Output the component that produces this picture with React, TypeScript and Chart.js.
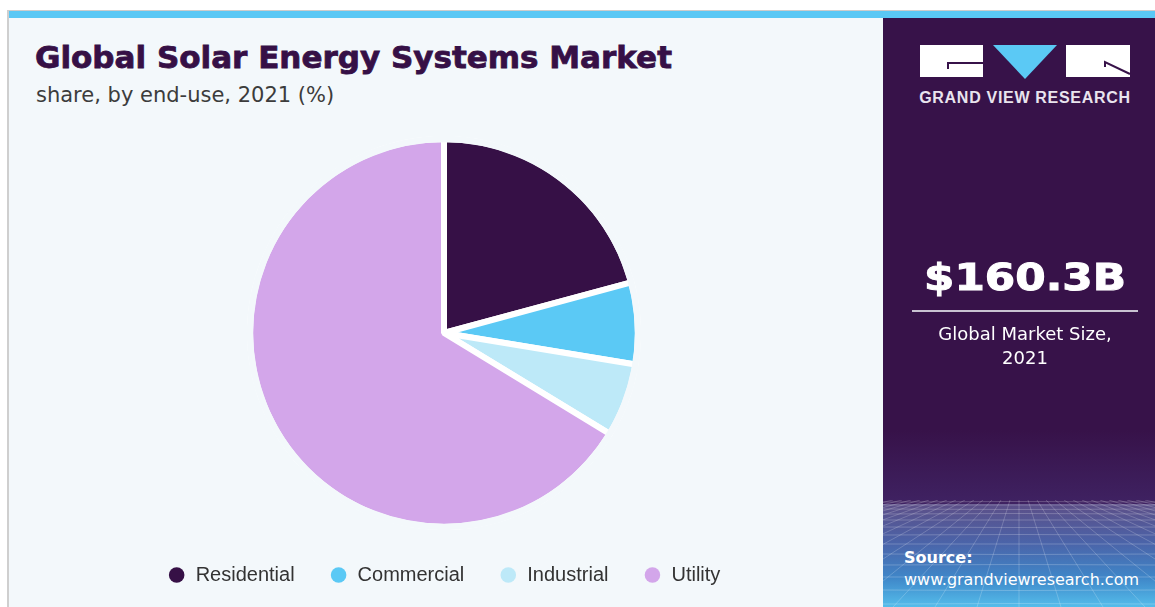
import React, { useEffect, useRef } from "react";
import { Chart, registerables, DoughnutController } from "chart.js";

Chart.register(...registerables);

const categories = ["Residential", "Commercial", "Industrial", "Utility"];
const shares = [20.8, 6.8, 6.1, 66.3];
const sliceColors = ["#361046", "#5bc9f5", "#bde9f8", "#d3a6ea"];
const titleText = "Global Solar Energy Systems Market";
const subtitleText = "share, by end-use, 2021 (%)";
const marketSize = "$160.3B";
const marketLabel = ["Global Market Size,", "2021"];
const brandText = "GRAND VIEW RESEARCH";
const sourceLabel = "Source:";
const sourceUrl = "www.grandviewresearch.com";

const PANEL_BG = "#f3f8fb";
const DV = "'DejaVu Sans', sans-serif";
const LS = "'Liberation Sans', Arial, sans-serif";

// hides the outer half of the white slice border so only the gaps stay white
const outerEdgePlugin = {
  id: "outerEdge",
  afterDatasetsDraw(chart: any) {
    const meta = chart.getDatasetMeta(0);
    const arc = meta && meta.data && meta.data[0];
    if (!arc) return;
    const bw = chart.data.datasets[0].borderWidth || 0;
    const ctx = chart.ctx;
    ctx.save();
    ctx.beginPath();
    ctx.arc(arc.x, arc.y, arc.outerRadius, 0, Math.PI * 2);
    ctx.lineWidth = bw + 0.5;
    ctx.strokeStyle = PANEL_BG;
    ctx.stroke();
    ctx.restore();
  },
};

function GridDecor() {
  const lines: JSX.Element[] = [];
  const ys = [502, 505, 509, 514, 520, 527, 535, 544, 554, 565, 577, 590, 604];
  ys.forEach((y, i) => {
    lines.push(
      <path key={"h" + i} d={`M0 ${y - 500} Q136 ${y - 500 + (i % 3) - 1} 272 ${y - 500}`} stroke="rgba(255,255,255,0.22)" strokeWidth="1" fill="none" />
    );
  });
  for (let k = -14; k <= 14; k++) {
    const x0 = 136 + k * 9;
    const x1 = 136 + k * 42;
    lines.push(<line key={"v" + k} x1={x0} y1={0} x2={x1} y2={107} stroke="rgba(255,255,255,0.2)" strokeWidth="1" />);
  }
  return (
    <svg width="272" height="107" style={{ position: "absolute", left: 0, top: 482 }}>
      {lines}
    </svg>
  );
}

export default function App() {
  const ref = useRef<HTMLCanvasElement>(null);

  useEffect(() => {
    const baseGen = (DoughnutController as any).overrides.plugins.legend.labels.generateLabels;
    const chart = new Chart(ref.current as HTMLCanvasElement, {
      type: "pie",
      data: {
        labels: categories,
        datasets: [
          {
            data: shares,
            backgroundColor: sliceColors,
            borderColor: "#ffffff",
            borderWidth: 6,
          },
        ],
      },
      options: {
        animation: false,
        responsive: false,
        maintainAspectRatio: false,
        plugins: {
          legend: {
            position: "bottom",
            labels: {
              usePointStyle: true,
              pointStyle: "circle",
              boxWidth: 18,
              boxHeight: 11,
              padding: 35,
              color: "#333333",
              font: { family: LS, size: 20 },
              generateLabels: (c: any) =>
                baseGen(c).map((it: any) => ({ ...it, lineWidth: 0, strokeStyle: it.fillStyle })),
            },
          },
          tooltip: { enabled: false },
        },
      } as any,
      plugins: [outerEdgePlugin],
    });
    return () => chart.destroy();
  }, []);

  return (
    <div style={{ position: "absolute", left: 0, top: 0, width: 1155, height: 607, overflow: "hidden", background: "#ffffff" }}>
      {/* frame */}
      <div style={{ position: "absolute", left: 7, top: 10, width: 1148, height: 597, borderLeft: "2px solid #cfcfcf", borderTop: "1px solid #cccccc", boxSizing: "border-box" }} />
      {/* top blue bar */}
      <div style={{ position: "absolute", left: 9, top: 11, width: 1146, height: 7, background: "#5ac8f5" }} />
      {/* left panel */}
      <div style={{ position: "absolute", left: 9, top: 18, width: 874, height: 589, background: PANEL_BG }} />
      <div style={{ position: "absolute", left: 35, top: 42, fontFamily: DV, fontWeight: 700, fontSize: 31, lineHeight: "31px", color: "#361046", WebkitTextStroke: "0.8px #361046", whiteSpace: "nowrap" }}>
        {titleText}
      </div>
      <div style={{ position: "absolute", left: 36, top: 85, fontFamily: DV, fontSize: 21, lineHeight: "21px", color: "#3c3c3c", whiteSpace: "nowrap" }}>
        {subtitleText}
      </div>
      <canvas
        ref={ref}
        width={870}
        height={459}
        style={{ position: "absolute", left: 9, top: 136, width: 870, height: 459 }}
      />
      {/* right panel */}
      <div
        style={{
          position: "absolute",
          left: 883,
          top: 18,
          width: 272,
          height: 589,
          overflow: "hidden",
          background:
            "linear-gradient(to bottom, #371249 0%, #371249 70%, #3f2262 82.5%, #5c4f88 82.6%, #4b63a8 89%, #3f86c8 95%, #54bdeb 100%)",
        }}
      >
        <GridDecor />
      </div>
      {/* logo */}
      <svg width="1155" height="120" style={{ position: "absolute", left: 0, top: 0 }}>
        <rect x="920" y="45" width="63" height="32" fill="#ffffff" />
        <path d="M948 69 L948 63 L983 63" stroke="#371249" strokeWidth="2" fill="none" />
        <polygon points="993,45 1057,45 1025,79" fill="#5bc9f5" />
        <rect x="1066" y="45" width="64" height="32" fill="#ffffff" />
        <path d="M1105 67 L1105 62 L1130 74" stroke="#371249" strokeWidth="2" fill="none" />
      </svg>
      <div style={{ position: "absolute", left: 895, width: 260, top: 90, textAlign: "center", fontFamily: LS, fontWeight: 700, fontSize: 16, lineHeight: "16px", letterSpacing: 0.7, color: "#e9e4ee", whiteSpace: "nowrap" }}>
        {brandText}
      </div>
      <div style={{ position: "absolute", left: 895, width: 260, top: 258, textAlign: "center", fontFamily: DV, fontWeight: 700, fontSize: 38, lineHeight: "38px", color: "#ffffff", WebkitTextStroke: "1px #ffffff", transform: "scaleX(1.15)", transformOrigin: "130px 0px", whiteSpace: "nowrap" }}>
        {marketSize}
      </div>
      <div style={{ position: "absolute", left: 912, top: 310, width: 226, height: 2, background: "#c9c2d2" }} />
      <div style={{ position: "absolute", left: 895, width: 260, top: 322, textAlign: "center", fontFamily: DV, fontSize: 18, lineHeight: "24px", color: "#ffffff", whiteSpace: "nowrap" }}>
        {marketLabel[0]}
        <br />
        {marketLabel[1]}
      </div>
      <div style={{ position: "absolute", left: 904, top: 550, fontFamily: DV, fontWeight: 700, fontSize: 16, lineHeight: "16px", color: "#ffffff", whiteSpace: "nowrap" }}>
        {sourceLabel}
      </div>
      <div style={{ position: "absolute", left: 904, top: 572, fontFamily: DV, fontSize: 16, lineHeight: "16px", color: "#ffffff", whiteSpace: "nowrap" }}>
        {sourceUrl}
      </div>
    </div>
  );
}
